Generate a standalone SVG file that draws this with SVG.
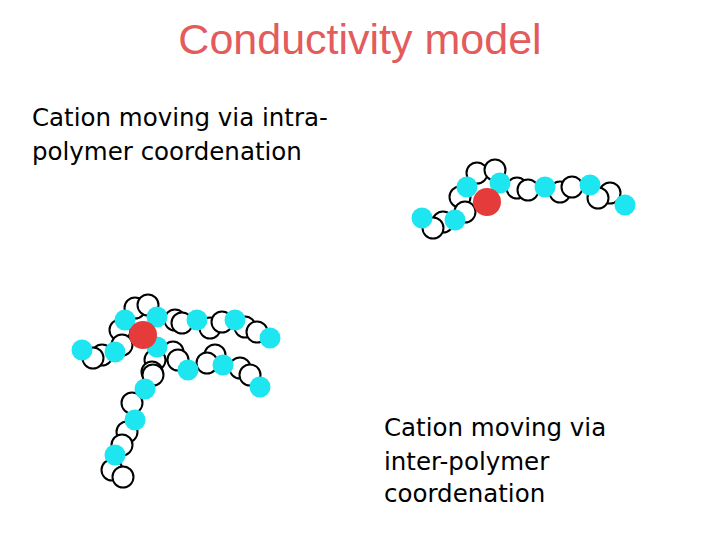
<svg xmlns="http://www.w3.org/2000/svg" width="720" height="540" viewBox="0 0 720 540">
<style>
.w{fill:#fff;stroke:#000;stroke-width:2}
.c{fill:#1ee6f0}
.r{fill:#e53b3b}
.t{font-family:"DejaVu Sans",sans-serif;font-size:24.5px;fill:#000}
</style>
<rect width="720" height="540" fill="#fff"/>
<text x="360" y="54" text-anchor="middle" font-family="Liberation Sans,sans-serif" font-size="43" fill="#e35b5b">Conductivity model</text>
<text class="t" x="32" y="126">Cation moving via intra-</text>
<text class="t" x="32" y="160">polymer coordenation</text>
<text class="t" x="384" y="436">Cation moving via</text>
<text class="t" x="384" y="470">inter-polymer</text>
<text class="t" x="384" y="502">coordenation</text>
<g id="chain1">
<circle class="w" cx="477" cy="173" r="10.5"/><circle class="w" cx="495" cy="170" r="10.5"/>
<circle class="w" cx="460" cy="197" r="10.5"/><circle class="w" cx="465" cy="212" r="10.5"/>
<circle class="w" cx="443" cy="222" r="10.5"/><circle class="w" cx="433" cy="228" r="10.5"/>
<circle class="w" cx="517" cy="188" r="10.5"/><circle class="w" cx="528" cy="190" r="10.5"/>
<circle class="w" cx="560" cy="192" r="10.5"/><circle class="w" cx="572" cy="187" r="10.5"/>
<circle class="w" cx="610" cy="193" r="10.5"/><circle class="w" cx="598" cy="198" r="10.5"/>
<circle class="c" cx="467" cy="187" r="10.5"/><circle class="c" cx="500" cy="183" r="10.5"/>
<circle class="c" cx="545" cy="187" r="10.5"/><circle class="c" cx="590" cy="185" r="10.5"/>
<circle class="c" cx="625" cy="205" r="10.5"/><circle class="c" cx="422" cy="218" r="10.5"/>
<circle class="c" cx="455" cy="220" r="10.5"/>
<circle class="r" cx="487" cy="202" r="14"/>
</g>
<g id="chain2">
<circle class="w" cx="135" cy="308" r="10.5"/><circle class="w" cx="148" cy="305" r="10.5"/>
<circle class="w" cx="120" cy="330" r="10.5"/><circle class="w" cx="122" cy="345" r="10.5"/>
<circle class="w" cx="102" cy="355" r="10.5"/><circle class="w" cx="93" cy="358" r="10.5"/>
<circle class="w" cx="175" cy="320" r="10.5"/><circle class="w" cx="182" cy="323" r="10.5"/>
<circle class="w" cx="210" cy="328" r="10.5"/><circle class="w" cx="222" cy="322" r="10.5"/>
<circle class="w" cx="245" cy="327" r="10.5"/><circle class="w" cx="257" cy="332" r="10.5"/>
<circle class="w" cx="173" cy="352" r="10.5"/><circle class="w" cx="178" cy="360" r="10.5"/>
<circle class="w" cx="215" cy="355" r="10.5"/><circle class="w" cx="207" cy="363" r="10.5"/>
<circle class="w" cx="240" cy="368" r="10.5"/><circle class="w" cx="250" cy="375" r="10.5"/>
<circle class="w" cx="155" cy="360" r="10.5"/><circle class="w" cx="152" cy="372" r="10.5"/>
<circle class="w" cx="153" cy="375" r="10.5"/><circle class="w" cx="132" cy="403" r="10.5"/>
<circle class="w" cx="127" cy="432" r="10.5"/><circle class="w" cx="122" cy="445" r="10.5"/>
<circle class="w" cx="112" cy="470" r="10.5"/><circle class="w" cx="123" cy="477" r="10.5"/>
<circle class="c" cx="125" cy="320" r="10.5"/><circle class="c" cx="157" cy="317" r="10.5"/>
<circle class="c" cx="197" cy="320" r="10.5"/><circle class="c" cx="235" cy="320" r="10.5"/>
<circle class="c" cx="270" cy="338" r="10.5"/><circle class="c" cx="82" cy="350" r="10.5"/>
<circle class="c" cx="115" cy="352" r="10.5"/><circle class="c" cx="157" cy="347" r="10.5"/>
<circle class="c" cx="188" cy="370" r="10.5"/><circle class="c" cx="223" cy="365" r="10.5"/>
<circle class="c" cx="260" cy="387" r="10.5"/><circle class="c" cx="145" cy="389" r="10.5"/>
<circle class="c" cx="135" cy="420" r="10.5"/><circle class="c" cx="115" cy="455" r="10.5"/>
<circle class="r" cx="143" cy="335" r="14"/>
</g>
</svg>
